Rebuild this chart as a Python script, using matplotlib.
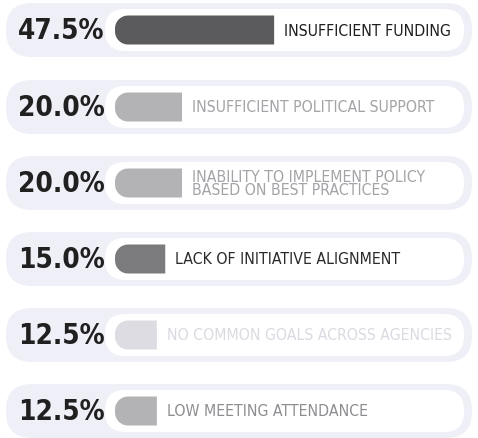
import matplotlib
matplotlib.use("Agg")
import numpy as np
import matplotlib.pyplot as plt
from matplotlib.patches import FancyBboxPatch, PathPatch
from matplotlib.path import Path

plt.rcParams['font.family'] = ['DejaVu Sans']
plt.rcParams['font.stretch'] = 'condensed'

values = [47.5, 20.0, 20.0, 15.0, 12.5, 12.5]
labels = ["INSUFFICIENT FUNDING",
          "INSUFFICIENT POLITICAL SUPPORT",
          "INABILITY TO IMPLEMENT POLICY\nBASED ON BEST PRACTICES",
          "LACK OF INITIATIVE ALIGNMENT",
          "NO COMMON GOALS ACROSS AGENCIES",
          "LOW MEETING ATTENDANCE"]
bar_colors = ["#5b5b5d", "#b3b3b6", "#b3b3b6", "#7b7b7d", "#dcdce2", "#b3b3b6"]
text_colors = ["#1e1e1e", "#a4a4a8", "#a4a4a8", "#2a2a2a", "#dadae2", "#8e8e92"]

W, H = 478, 438
fig = plt.figure(figsize=(W / 100, H / 100), dpi=100)
ax = fig.add_axes([0, 0, 1, 1])
ax.set_xlim(0, W)
ax.set_ylim(H, 0)
ax.axis('off')

row_y = [30, 107, 183, 259, 335, 411]
px_per_pct = 3.35
bar_x0 = 115
bar_h = 29


def left_round_bar(x0, yc, w, h, r):
    # bar with a rounded left end and a square right end
    top, bot = yc - h / 2, yc + h / 2
    verts = [(x0 + w, top), (x0 + w, bot), (x0 + r, bot)]
    for a in np.linspace(0, np.pi / 2, 10):
        verts.append((x0 + r - r * np.sin(a), bot - r + r * np.cos(a)))
    for a in np.linspace(np.pi / 2, np.pi, 10):
        verts.append((x0 + r - r * np.sin(a), top + r + r * np.cos(a)))
    verts.append((x0 + w, top))
    return Path(verts, closed=True)


for i, v in enumerate(values):
    y = row_y[i]
    # lavender pill + white inner area
    ax.add_patch(FancyBboxPatch((6, y - 27), 466, 54,
                                boxstyle="round,pad=0,rounding_size=26",
                                fc="#efeff7", ec="none", zorder=1))
    ax.add_patch(FancyBboxPatch((105, y - 21), 359, 42,
                                boxstyle="round,pad=0,rounding_size=20",
                                fc="#ffffff", ec="none", zorder=2))
    w = v * px_per_pct
    ax.add_patch(PathPatch(left_round_bar(bar_x0, y, w, bar_h, 13),
                           fc=bar_colors[i], ec="none", zorder=3))
    ax.text(18, y + 1, f"{v:.1f}%", fontsize=20, fontweight='bold',
            color="#202020", va='center', ha='left', zorder=4)
    ax.text(bar_x0 + w + 10, y + 1, labels[i], fontsize=11.3, color=text_colors[i],
            va='center', ha='left', linespacing=0.82, zorder=4)

fig.savefig("out.png", dpi=100, facecolor="white")
